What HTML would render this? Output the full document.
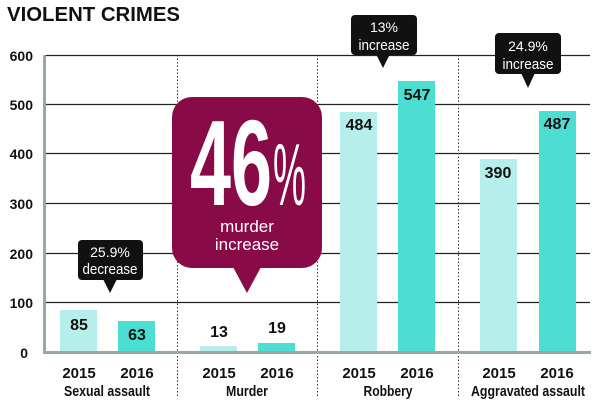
<!DOCTYPE html>
<html><head><meta charset="utf-8"><style>
html,body{margin:0;padding:0;background:#fff;}
svg{display:block;}
text{font-family:"Liberation Sans Narrow","Liberation Sans",sans-serif;}
.b{font-family:"Liberation Sans",sans-serif;font-weight:bold;}
</style></head><body>
<svg width="600" height="407" viewBox="0 0 600 407" xmlns="http://www.w3.org/2000/svg">
<text x="7" y="21" class="b" font-size="20" textLength="173" lengthAdjust="spacingAndGlyphs" fill="#111">VIOLENT CRIMES</text>
<g stroke="#222" stroke-width="1.2">
<line x1="45" y1="55.5" x2="590" y2="55.5"/>
<line x1="45" y1="104.5" x2="590" y2="104.5"/>
<line x1="45" y1="153.5" x2="590" y2="153.5"/>
<line x1="45" y1="203.5" x2="590" y2="203.5"/>
<line x1="45" y1="253.5" x2="590" y2="253.5"/>
<line x1="45" y1="302.5" x2="590" y2="302.5"/>
</g>
<g stroke="#333" stroke-width="1" stroke-dasharray="1.5,2">
<line x1="177.5" y1="55" x2="177.5" y2="398"/>
<line x1="317.5" y1="55" x2="317.5" y2="398"/>
<line x1="458.5" y1="55" x2="458.5" y2="398"/>
</g>
<g font-size="14" fill="#111" text-anchor="end">
<text x="33" y="61" class="b">600</text>
<text x="33" y="110" class="b">500</text>
<text x="33" y="159" class="b">400</text>
<text x="33" y="209" class="b">300</text>
<text x="33" y="259" class="b">200</text>
<text x="33" y="308" class="b">100</text>
<text x="28" y="358" class="b">0</text>
</g>
<rect x="60" y="310" width="37" height="42" fill="#b5eeea"/>
<rect x="118" y="321" width="37" height="31" fill="#4cddd3"/>
<rect x="200" y="346" width="37" height="6" fill="#b5eeea"/>
<rect x="258" y="343" width="37" height="9" fill="#4cddd3"/>
<rect x="340" y="112" width="37" height="240" fill="#b5eeea"/>
<rect x="398" y="81" width="37" height="271" fill="#4cddd3"/>
<rect x="480" y="159" width="37" height="193" fill="#b5eeea"/>
<rect x="539" y="111" width="37" height="241" fill="#4cddd3"/>
<rect x="43" y="55" width="3" height="299" fill="#97a8a6"/>
<rect x="43" y="351" width="548" height="3" fill="#97a8a6"/>
<g font-size="16" font-weight="bold" fill="#111" text-anchor="middle">
<text x="79" y="330">85</text>
<text x="137" y="340">63</text>
<text x="219" y="337">13</text>
<text x="277" y="333">19</text>
<text x="359" y="130">484</text>
<text x="417" y="100">547</text>
<text x="498" y="178">390</text>
<text x="557" y="129">487</text>
</g>
<g font-size="15" fill="#111" text-anchor="middle">
<text x="79" y="378" class="b">2015</text><text x="137" y="378" class="b">2016</text>
<text x="219" y="378" class="b">2015</text><text x="277" y="378" class="b">2016</text>
<text x="359" y="378" class="b">2015</text><text x="417" y="378" class="b">2016</text>
<text x="499" y="378" class="b">2015</text><text x="557" y="378" class="b">2016</text>
</g>
<g font-size="14.5" fill="#111" text-anchor="middle" font-weight="bold">
<text x="107" y="396" textLength="86" lengthAdjust="spacingAndGlyphs">Sexual assault</text>
<text x="247" y="396" textLength="42" lengthAdjust="spacingAndGlyphs">Murder</text>
<text x="388" y="396" textLength="49" lengthAdjust="spacingAndGlyphs">Robbery</text>
<text x="528" y="396" textLength="114" lengthAdjust="spacingAndGlyphs">Aggravated assault</text>
</g>
<g fill="#111">
<rect x="78" y="240" width="65" height="40" rx="4"/><path d="M103 279 L117 279 L110 293 Z"/>
<rect x="351" y="15" width="66" height="40" rx="4"/><path d="M376 54 L390 54 L383 68 Z"/>
<rect x="495" y="33" width="66" height="41" rx="4"/><path d="M521 73 L535 73 L528 88 Z"/>
</g>
<g font-size="14.5" fill="#fff" text-anchor="middle">
<text x="110" y="257" font-size="14">25.9%</text><text x="110" y="274" textLength="55" lengthAdjust="spacingAndGlyphs">decrease</text>
<text x="384" y="32" font-size="14">13%</text><text x="384" y="50" textLength="51" lengthAdjust="spacingAndGlyphs">increase</text>
<text x="528" y="51" font-size="14">24.9%</text><text x="528" y="69" textLength="51" lengthAdjust="spacingAndGlyphs">increase</text>
</g>
<rect x="172" y="97" width="150" height="171" rx="20" fill="#880a47"/>
<path d="M233 267 L261 267 L247 293 Z" fill="#880a47"/>
<text x="190" y="205" font-size="122" font-weight="bold" fill="#fff" textLength="82" lengthAdjust="spacingAndGlyphs">46</text>
<text x="273" y="205" font-size="88" fill="#fff" textLength="33" lengthAdjust="spacingAndGlyphs">%</text>
<text x="247" y="232" font-size="17" fill="#fff" text-anchor="middle">murder</text>
<text x="247" y="250" font-size="17" fill="#fff" text-anchor="middle">increase</text>
</svg>
</body></html>
